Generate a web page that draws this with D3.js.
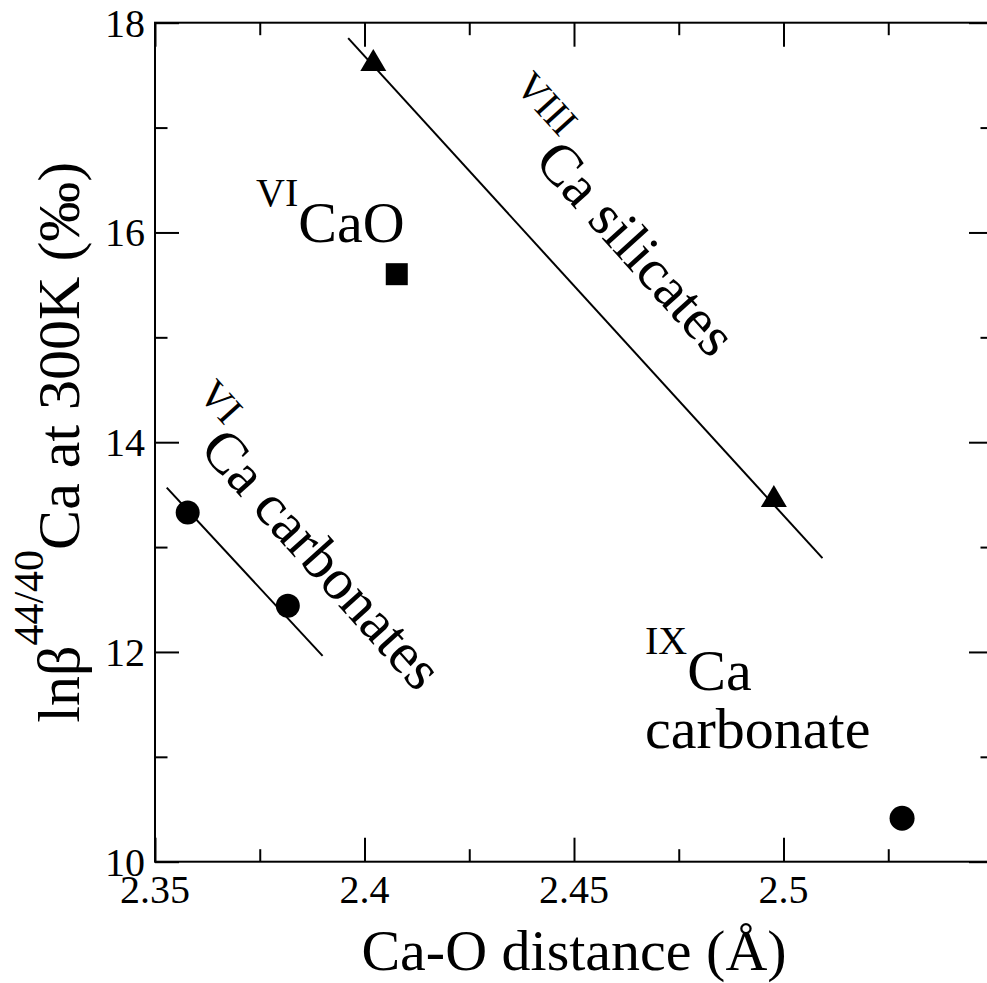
<!DOCTYPE html>
<html>
<head>
<meta charset="utf-8">
<script src="https://cdn.jsdelivr.net/npm/d3@7"></script>
<style>
  html, body { margin: 0; padding: 0; background: #fff; }
  svg { display: block; }
</style>
</head>
<body>
<script>
// ---- data ----
const carbonateX = [2.3578, 2.3817];
const carbonateY = [13.33, 12.44];
const carbonateFitX = [2.3528, 2.3900];
const carbonateFitY = [13.567, 11.962];
const silicateX = [2.4021, 2.4977];
const silicateY = [17.644, 13.486];
const silicateFitX = [2.3961, 2.5093];
const silicateFitY = [17.853, 12.894];
const caoX = [2.4077];
const caoY = [15.602];
const ixCarbonateX = [2.5283];
const ixCarbonateY = [10.414];
const xMajorTicks = [2.35, 2.4, 2.45, 2.5, 2.55];
const xMinorTicks = [2.375, 2.425, 2.475, 2.525];
const xTickLabels = ["2.35", "2.4", "2.45", "2.5", ""];
const yMajorTicks = [10, 12, 14, 16, 18];
const yMinorTicks = [11, 13, 15, 17];
const yTickLabels = ["10", "12", "14", "16", "18"];

// ---- layout ----
const FONT = "'Liberation Serif', 'Times New Roman', Times, 'Nimbus Roman', 'DejaVu Serif', serif";
const W = 987, H = 983;
const L = 155, R = 993, T = 22.7, B = 861.7;
const svg = d3.select("body").append("svg").attr("width", W).attr("height", H)
  .attr("font-family", FONT).style("font-family", FONT);

const x = d3.scaleLinear().domain([2.35, 2.55]).range([L, R]);
const y = d3.scaleLinear().domain([10, 18]).range([B, T]);

const majorLen = 24, minorLen = 12.5, sw = 2;

function addAxis(axisGen, tr, vals, len) {
  const g = svg.append("g").attr("transform", tr).call(axisGen.tickValues(vals).tickSizeInner(len).tickSizeOuter(0).tickFormat(""));
  g.select(".domain").remove();
  g.selectAll(".tick line").attr("stroke", "#000").attr("stroke-width", sw);
  return g;
}
addAxis(d3.axisTop(x), `translate(0,${B})`, xMajorTicks, majorLen);
addAxis(d3.axisTop(x), `translate(0,${B})`, xMinorTicks, minorLen);
addAxis(d3.axisBottom(x), `translate(0,${T})`, xMajorTicks, majorLen);
addAxis(d3.axisBottom(x), `translate(0,${T})`, xMinorTicks, minorLen);
addAxis(d3.axisRight(y), `translate(${L},0)`, yMajorTicks, majorLen);
addAxis(d3.axisRight(y), `translate(${L},0)`, yMinorTicks, minorLen);
addAxis(d3.axisLeft(y), `translate(${R},0)`, yMajorTicks, majorLen);
addAxis(d3.axisLeft(y), `translate(${R},0)`, yMinorTicks, minorLen);

svg.append("rect").attr("x", L).attr("y", T).attr("width", R - L).attr("height", B - T)
  .attr("fill", "none").attr("stroke", "#000").attr("stroke-width", sw);

function txt(sel) { return sel.attr("font-family", FONT).style("font-family", FONT).attr("fill", "#000"); }

// tick labels
txt(svg.append("g").selectAll("text").data(xMajorTicks).join("text"))
  .attr("x", d => x(d)).attr("y", B + 41).attr("text-anchor", "middle")
  .attr("font-size", 40).text((d, i) => xTickLabels[i]);
txt(svg.append("g").selectAll("text").data(yMajorTicks).join("text"))
  .attr("x", L - 10).attr("y", d => y(d) + 14).attr("text-anchor", "end")
  .attr("font-size", 40).text((d, i) => yTickLabels[i]);

// axis titles
txt(svg.append("text")).attr("x", (L + R) / 2).attr("y", 970).attr("text-anchor", "middle")
  .attr("font-size", 58).text("Ca-O distance (Å)");

const yt = txt(svg.append("text")).attr("transform", `translate(79,${(T + B) / 2}) rotate(-90)`)
  .attr("text-anchor", "middle").attr("font-size", 60);
yt.append("tspan").text("lnβ");
yt.append("tspan").attr("font-size", 42).attr("dy", -36).text("44/40");
yt.append("tspan").attr("dy", 36).text("Ca at 300K (‰)");

// fit lines
const line = d3.line().x(d => x(d[0])).y(d => y(d[1]));
svg.append("path").datum(d3.zip(carbonateFitX, carbonateFitY)).attr("d", line)
  .attr("fill", "none").attr("stroke", "#000").attr("stroke-width", 2);
svg.append("path").datum(d3.zip(silicateFitX, silicateFitY)).attr("d", line)
  .attr("fill", "none").attr("stroke", "#000").attr("stroke-width", 2);

// markers
svg.append("g").selectAll("circle").data(d3.zip(carbonateX, carbonateY)).join("circle")
  .attr("cx", d => x(d[0])).attr("cy", d => y(d[1])).attr("r", 12).attr("fill", "#000");
svg.append("g").selectAll("circle").data(d3.zip(ixCarbonateX, ixCarbonateY)).join("circle")
  .attr("cx", d => x(d[0])).attr("cy", d => y(d[1])).attr("r", 12.5).attr("fill", "#000");
svg.append("g").selectAll("rect").data(d3.zip(caoX, caoY)).join("rect")
  .attr("x", d => x(d[0]) - 11).attr("y", d => y(d[1]) - 11).attr("width", 22).attr("height", 22).attr("fill", "#000");
svg.append("g").selectAll("path").data(d3.zip(silicateX, silicateY)).join("path")
  .attr("d", d => `M${x(d[0])},${y(d[1]) - 11}L${x(d[0]) + 13},${y(d[1]) + 11}L${x(d[0]) - 13},${y(d[1]) + 11}Z`)
  .attr("fill", "#000");

// annotations
function label(tx, ty, rot, sup, main) {
  const t = txt(svg.append("text")).attr("transform", `translate(${tx},${ty}) rotate(${rot})`).attr("font-size", 58);
  t.append("tspan").attr("font-size", 40).attr("dy", -36).text(sup);
  t.append("tspan").attr("dy", 36).text(main);
  return t;
}
label(256, 242, 0, "VI", "CaO");
label(645, 690, 0, "IX", "Ca");
txt(svg.append("text")).attr("x", 645).attr("y", 748).attr("font-size", 58).text("carbonate");
label(170, 419, 48, "VI", "Ca carbonates");
label(487, 111, 48, "VIII", "Ca silicates");
</script>
</body>
</html>
